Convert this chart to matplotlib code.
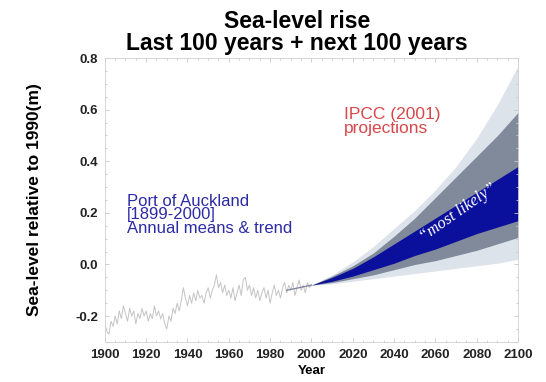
import numpy as np
import matplotlib
matplotlib.use("Agg")
import matplotlib.pyplot as plt
from matplotlib.ticker import MultipleLocator

plt.rcParams['font.family'] = ['Liberation Sans', 'DejaVu Sans']

# Port of Auckland annual mean sea level (m, relative to 1990)
hist_years = list(range(1899, 2001))
hist_level = [
    -0.25, -0.23, -0.26, -0.27, -0.22, -0.24, -0.20, -0.23, -0.18, -0.21,
    -0.16, -0.19, -0.22, -0.17, -0.20, -0.18, -0.23, -0.19, -0.21, -0.17,
    -0.20, -0.18, -0.22, -0.19, -0.21, -0.16, -0.20, -0.18, -0.21, -0.19,
    -0.23, -0.25, -0.20, -0.22, -0.17, -0.19, -0.15, -0.18, -0.14, -0.09,
    -0.13, -0.16, -0.12, -0.15, -0.11, -0.14, -0.10, -0.13, -0.12, -0.15,
    -0.11, -0.09, -0.13, -0.10, -0.08, -0.04, -0.09, -0.07, -0.11, -0.08,
    -0.12, -0.10, -0.13, -0.09, -0.14, -0.11, -0.08, -0.12, -0.06, -0.05,
    -0.10, -0.08, -0.12, -0.09, -0.13, -0.10, -0.14, -0.11, -0.09, -0.13,
    -0.10, -0.15, -0.11, -0.08, -0.12, -0.10, -0.13, -0.09, -0.07, -0.11,
    -0.08, -0.10, -0.07, -0.12, -0.09, -0.06, -0.10, -0.08, -0.11, -0.07,
    -0.09, -0.08,
]

# Linear trend over the final years of the record
trend_years = [1988, 2000]
trend_level = [-0.10, -0.08]

# IPCC (2001) projection envelopes
proj_years = [2000, 2010, 2020, 2030, 2040, 2050, 2060, 2070, 2080, 2090, 2100]
full_low = [-0.08, -0.075, -0.065, -0.055, -0.045, -0.035, -0.025, -0.015, -0.005, 0.005, 0.02]
full_high = [-0.08, -0.04, 0.01, 0.07, 0.14, 0.21, 0.29, 0.38, 0.49, 0.62, 0.77]
mid_low = [-0.08, -0.07, -0.055, -0.04, -0.02, 0.0, 0.015, 0.035, 0.055, 0.08, 0.105]
mid_high = [-0.08, -0.045, -0.005, 0.045, 0.11, 0.18, 0.26, 0.34, 0.42, 0.50, 0.59]
likely_low = [-0.08, -0.065, -0.045, -0.02, 0.005, 0.035, 0.06, 0.09, 0.12, 0.145, 0.17]
likely_high = [-0.08, -0.05, -0.015, 0.03, 0.08, 0.13, 0.18, 0.23, 0.28, 0.33, 0.38]

x_ticks = [1900, 1920, 1940, 1960, 1980, 2000, 2020, 2040, 2060, 2080, 2100]
y_ticks = [-0.2, 0.0, 0.2, 0.4, 0.6, 0.8]

fig = plt.figure(figsize=(5.46, 3.82), dpi=100)
ax = fig.add_axes([0.192, 0.105, 0.757, 0.743])

ax.fill_between(proj_years, full_low, full_high, color='#dde3ea', lw=0)
ax.fill_between(proj_years, mid_low, mid_high, color='#808a9a', lw=0)
ax.fill_between(proj_years, likely_low, likely_high, color='#0b109c', lw=0)

ax.plot(hist_years, hist_level, color='#c4c4c4', lw=0.7)
ax.plot(trend_years, trend_level, color='#7a82a0', lw=0.9)

ax.set_xlim(1900, 2100)
ax.set_ylim(-0.3, 0.8)
ax.set_xticks(x_ticks)
ax.set_xticklabels([str(v) for v in x_ticks])
ax.set_yticks(y_ticks)
ax.set_yticklabels([f"{v:.1f}" for v in y_ticks])
ax.xaxis.set_minor_locator(MultipleLocator(5))
ax.yaxis.set_minor_locator(MultipleLocator(0.05))
ax.tick_params(which='both', direction='in', top=True, right=True,
               color='#c8c8c8', width=0.6)
ax.tick_params(which='major', length=3, labelsize=9.5, pad=5)
ax.tick_params(which='minor', length=1.5)
for lab in ax.get_xticklabels() + ax.get_yticklabels():
    lab.set_fontweight('bold')
    lab.set_color('#222222')
for sp in ax.spines.values():
    sp.set_color('#d0d0d0')
    sp.set_linewidth(0.6)

ax.set_xlabel('Year', fontsize=9.5, fontweight='bold', labelpad=3)
ax.set_ylabel('Sea-level relative to 1990(m)', fontsize=12.5, fontweight='bold')
ax.yaxis.set_label_coords(-0.152, 0.5)

fig.text(0.544, 0.945, 'Sea-level rise', ha='center', va='center',
         fontsize=16.5, fontweight='bold')
fig.text(0.544, 0.886, 'Last 100 years + next 100 years', ha='center',
         va='center', fontsize=16.5, fontweight='bold')

ax.text(1910.5, 0.275, 'Port of Auckland\n[1899-2000]\nAnnual means & trend',
        color='#2b2ba6', fontsize=12, va='top', ha='left', linespacing=0.88)
ax.text(2015.5, 0.61, 'IPCC (2001)\nprojections', color='#d8474a',
        fontsize=12.5, va='top', ha='left', linespacing=0.95)
ax.text(2071, 0.20, '\u201cmost likely\u201d', color='white', fontsize=12,
        style='italic', family=['Liberation Serif', 'DejaVu Serif'],
        rotation=35, ha='center', va='center', rotation_mode='anchor')

fig.savefig('out.png', dpi=100)
